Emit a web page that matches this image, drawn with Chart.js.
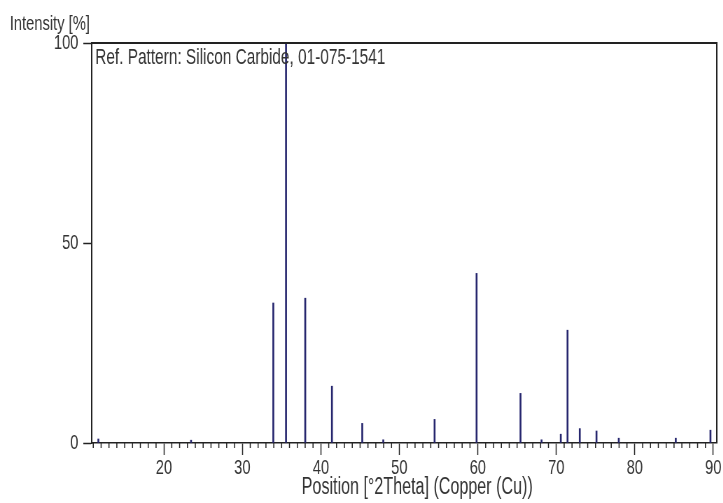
<!DOCTYPE html>
<html>
<head>
<meta charset="utf-8">
<script src="https://cdn.jsdelivr.net/npm/chart.js@4"></script>
<style>
  html, body { margin: 0; padding: 0; background: #fff; overflow: hidden; }
  /* the original screenshot is squeezed horizontally, so draw wide and squeeze */
  #c { transform: scaleX(0.7); transform-origin: 0 0; display: block; }
</style>
</head>
<body>
<canvas id="c" width="1033" height="503"></canvas>
<script>
// reference pattern lines (position in 2theta, intensity in %)
const peakPositions = [11.65, 23.46, 33.94, 35.56, 38.01, 41.41, 45.27, 47.95, 54.49, 59.84,
                       65.44, 68.12, 70.57, 71.43, 72.99, 75.12, 77.96, 85.22, 89.64];
const peakIntensities = [1, 0.7, 35, 100, 36.2, 14.2, 4.9, 0.8, 5.9, 42.4,
                         12.4, 0.8, 2.2, 28.2, 3.6, 3, 1.2, 1.2, 3.2];

const xTicks = [20, 30, 40, 50, 60, 70, 80, 90];
const yTicks = [0, 50, 100];
const yTitle = 'Intensity [%]';
const xTitle = 'Position [°2Theta] (Copper (Cu))';
const patternLabel = 'Ref. Pattern: Silicon Carbide, 01-075-1541';

const FONT = "'Liberation Sans', Arial, sans-serif";
const TEXT = '#333';
const AXIS = '#222';

const framePlugin = {
    id: 'frame',
    afterDraw(chart) {
        const ctx = chart.ctx;
        const a = chart.chartArea;
        const xs = chart.scales.x;
        ctx.save();

        // top and right border of the box
        ctx.strokeStyle = AXIS;
        ctx.lineWidth = 2;
        ctx.beginPath();
        ctx.moveTo(a.left, a.top);
        ctx.lineTo(a.right, a.top);
        ctx.lineTo(a.right, a.bottom);
        ctx.stroke();

        // minor ticks every degree
        ctx.lineWidth = 1.5;
        ctx.beginPath();
        for (let v = Math.ceil(xs.min); v <= xs.max; v++) {
            if (v % 10 === 0) continue;
            const px = xs.getPixelForValue(v);
            ctx.moveTo(px, a.bottom);
            ctx.lineTo(px, a.bottom + 5);
        }
        ctx.stroke();

        // texts
        ctx.fillStyle = TEXT;
        ctx.textBaseline = 'alphabetic';
        ctx.textAlign = 'left';
        ctx.font = `21px ${FONT}`;
        ctx.fillText(yTitle, 14, 30);
        ctx.font = `22px ${FONT}`;
        ctx.fillText(patternLabel, a.left + 5, 64);
        ctx.font = `23px ${FONT}`;
        ctx.fillText(xTitle, 431, 494);

        ctx.restore();
    }
};

new Chart(document.getElementById('c'), {
    type: 'bar',
    data: {
        datasets: [{
            data: peakPositions.map((x, i) => ({ x: x, y: peakIntensities[i] })),
            backgroundColor: '#26266e',
            borderWidth: 0,
            barThickness: 2
        }]
    },
    options: {
        responsive: false,
        animation: false,
        layout: { padding: { left: 0, right: 9, top: 43, bottom: 0 } },
        plugins: {
            legend: { display: false },
            tooltip: { enabled: false }
        },
        scales: {
            x: {
                type: 'linear',
                min: 10.8,
                max: 90.45,
                offset: false,
                afterBuildTicks: s => { s.ticks = xTicks.map(v => ({ value: v })); },
                afterFit: s => { s.height = 60; },
                grid: { offset: false, drawOnChartArea: false, tickLength: 12, color: AXIS, tickWidth: 1.5 },
                border: { color: AXIS, width: 1.5 },
                ticks: { font: { family: FONT, size: 21 }, color: TEXT, padding: 1, maxRotation: 0, autoSkip: false }
            },
            y: {
                min: 0,
                max: 100,
                afterBuildTicks: s => { s.ticks = yTicks.map(v => ({ value: v })); },
                afterFit: s => { s.width = 131; },
                grid: { drawOnChartArea: false, tickLength: 12, color: AXIS, tickWidth: 1.5 },
                border: { color: AXIS, width: 2 },
                ticks: { font: { family: FONT, size: 21 }, color: TEXT, padding: 7 }
            }
        }
    },
    plugins: [framePlugin]
});
</script>
</body>
</html>
